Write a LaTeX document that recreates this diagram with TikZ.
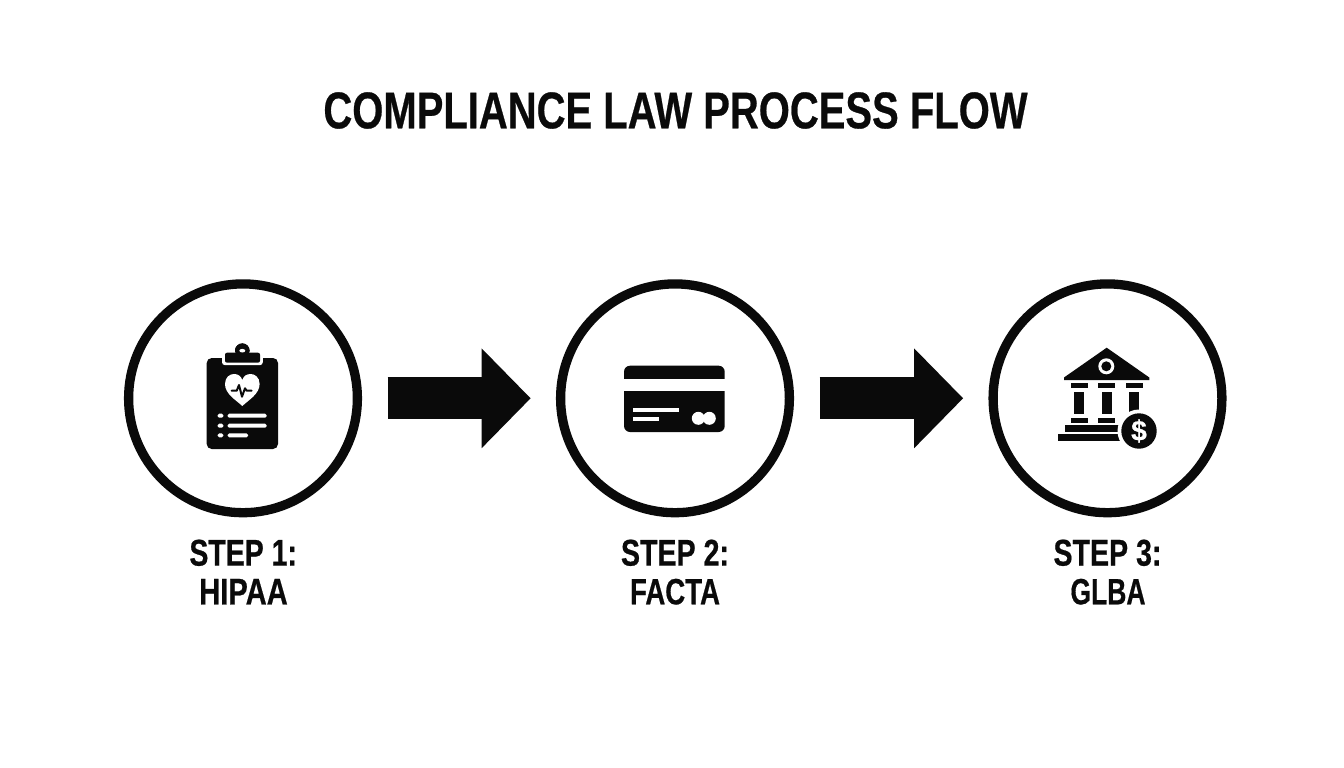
\documentclass[tikz,border=0pt]{standalone}
\usepackage{fontspec}
\usepackage{graphicx}
\setmainfont{Liberation Sans}[BoldFeatures={FakeBold=0.6}]
\usetikzlibrary{arrows.meta,shapes.geometric}
\definecolor{ink}{HTML}{0A0A0A}
\newcommand{\fittext}[3]{\resizebox{#1pt}{#2pt}{\bfseries #3}}
\tikzset{
  stepcircle/.style={circle,draw=ink,fill=white,line width=9.3pt,minimum size=228.8pt,inner sep=0pt,outer sep=0pt},
  textnode/.style={inner sep=0pt,outer sep=0pt,text=ink},
  flowarrow/.style={draw=ink,line width=42pt,-{Triangle[length=49pt,width=96.7pt,fill=ink]},shorten <=30.3pt,shorten >=29.9pt},
  icon/.style={fill=ink},
  hole/.style={fill=white}
}
\begin{document}
\begin{tikzpicture}[x=1pt,y=-1pt]
\useasboundingbox[fill=white] (0,0) rectangle (1344,768);
% title
\node[textnode] (title) at (675.5,110.5) {\fittext{704}{36}{COMPLIANCE LAW PROCESS FLOW}};
% circles
\node[stepcircle] (c1) at (243,398.3) {};
\node[stepcircle] (c2) at (675,398.3) {};
\node[stepcircle] (c3) at (1107.5,398.3) {};
% arrows
\draw[flowarrow] (c1.east) -- (c2.west);
\draw[flowarrow] (c2.east) -- (c3.west);
% labels
\node[textnode] (s1) at (243.2,552.8) {\fittext{107.5}{26}{STEP 1:}};
\node[textnode] (l1) at (243.5,591.7) {\fittext{88.5}{25.5}{HIPAA}};
\node[textnode] (s2) at (675,552.8) {\fittext{108}{26}{STEP 2:}};
\node[textnode] (l2) at (675,591.7) {\fittext{90}{25.5}{FACTA}};
\node[textnode] (s3) at (1107.5,552.8) {\fittext{108}{26}{STEP 3:}};
\node[textnode] (l3) at (1108,591.7) {\fittext{75}{25.5}{GLBA}};
% clipboard icon
\fill[icon,rounded corners=5pt] (206.7,358) rectangle (278,449);
\fill[icon] (242.3,350.7) circle (7.3);
\fill[hole,rounded corners=3pt] (222,352) rectangle (262.8,365.2);
\fill[icon,rounded corners=2pt] (225,352.7) rectangle (260,362.7);
\fill[icon] (242.3,350.7) circle (7.3);
\fill[hole] (242.3,350.7) ellipse (3 and 1.8);
\fill[hole] (242.3,406) .. controls (236,400) and (225,394) .. (225,384)
  .. controls (225,377) and (230,374) .. (234,374)
  .. controls (238,374) and (241,376) .. (242.3,380)
  .. controls (243.6,376) and (246.6,374) .. (250.6,374)
  .. controls (254.6,374) and (259.6,377) .. (259.6,384)
  .. controls (259.6,394) and (248.6,400) .. (242.3,406) -- cycle;
\draw[ink,line width=2pt,line join=round,line cap=round] (231.7,390.7) -- (236.7,390.7) -- (239,385) -- (242,396.7) -- (245,388.3) -- (246.7,390.7) -- (251.7,390.7);
\foreach \yy/\xe in {415.7/266.7,425.7/266.7,435.3/248}{
  \fill[hole,rounded corners=1.5pt] (217.7,\yy-2) rectangle (223.3,\yy+2);
  \fill[hole,rounded corners=1.5pt] (227.7,\yy-2) rectangle (\xe,\yy+2);
}
% card icon
\fill[icon,rounded corners=6pt] (624,365.7) rectangle (724.7,432);
\fill[hole] (620,378.7) rectangle (728,391.3);
\fill[hole] (632.7,408.2) rectangle (679.3,412);
\fill[hole] (632.7,417.3) rectangle (659.3,420.7);
\fill[hole] (698.3,418.3) circle (6.5);
\fill[hole] (709.3,418.3) circle (6.5);
% bank icon
\fill[icon,line join=round] (1106.7,347.7) -- (1149.3,377.5) -- (1149.3,380) -- (1064,380) -- (1064,377.5) -- cycle;
\fill[hole] (1106.3,366.3) circle (8);
\fill[icon] (1106.3,366.3) circle (5);
\foreach \xc in {1079.3,1106.7,1134.3}{
  \fill[icon] (\xc-8.3,383.3) rectangle (\xc+8.3,388.3);
}
\foreach \xc in {1079.3,1106.7}{
  \fill[icon] (\xc-5.1,391.7) rectangle (\xc+5.1,414.3);
  \fill[icon] (\xc-8.3,417.7) rectangle (\xc+8.3,422.7);
}
\fill[icon] (1129,391.7) rectangle (1139,412);
\fill[icon] (1065,425.3) rectangle (1122,432);
\fill[icon] (1057.7,434.3) rectangle (1122,441.3);
\fill[hole] (1139,431) circle (21.5);
\fill[icon] (1139,431) circle (17.7);
\node[textnode,text=white] (dollar) at (1139,431) {\resizebox{!}{21pt}{\bfseries\$}};
\end{tikzpicture}
\end{document}
